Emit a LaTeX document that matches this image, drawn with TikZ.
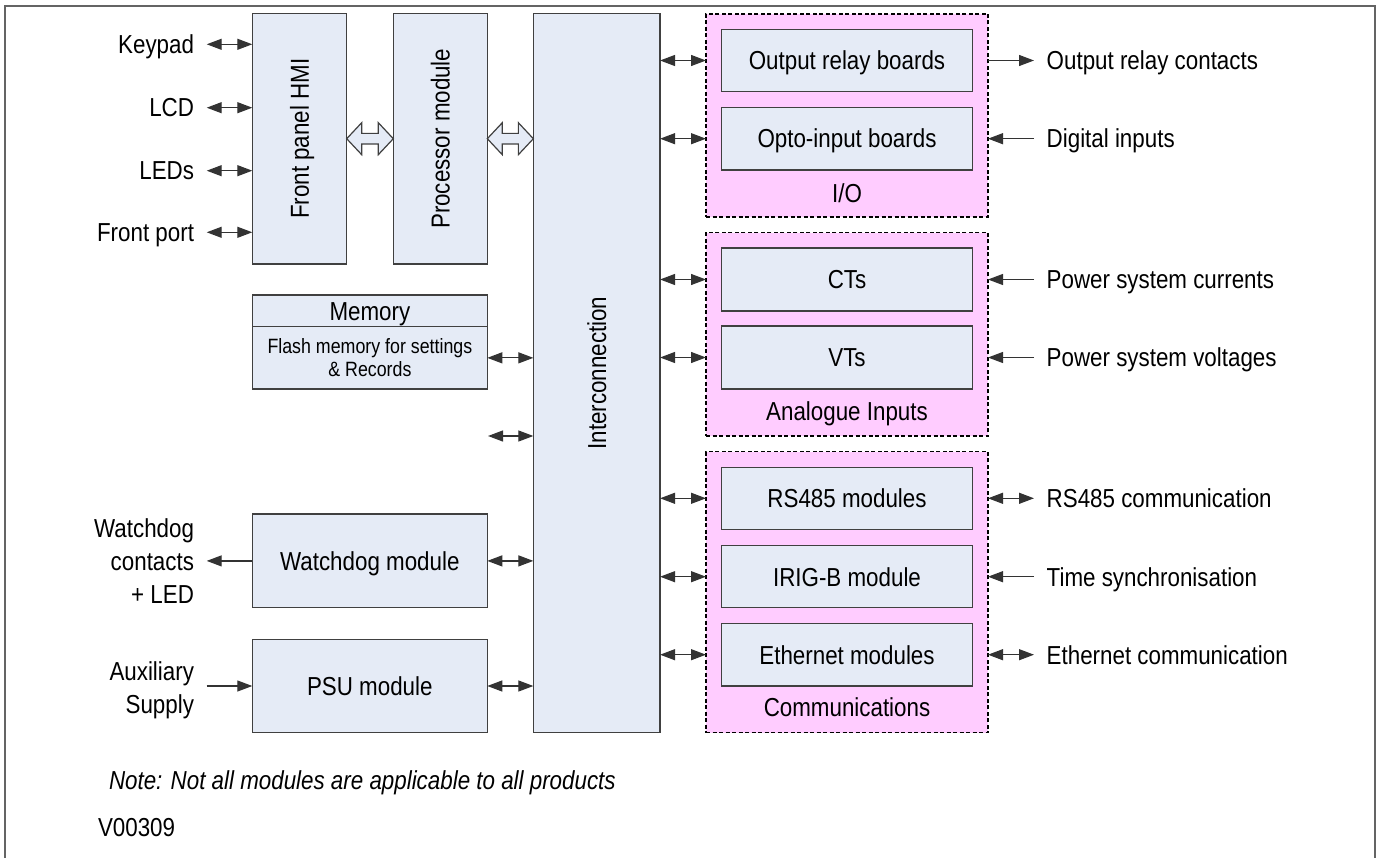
\documentclass[tikz,border=0pt]{standalone}
\usepackage{fontspec}
\setmainfont{Liberation Sans}[FakeStretch=0.86]
\usetikzlibrary{arrows.meta,calc}
\definecolor{boxfill}{RGB}{229,235,246}
\definecolor{grpfill}{RGB}{255,204,255}
\definecolor{boxline}{RGB}{64,64,64}
\definecolor{frameline}{RGB}{100,100,100}
\begin{document}
\begin{tikzpicture}[x=1pt,y=-1pt,
  every node/.style={inner sep=0pt,outer sep=0pt},
  txt/.style={font=\fontsize{26}{33}\selectfont,text height=18.6pt,text depth=0pt},
  mtxt/.style={font=\fontsize{26}{33}\selectfont},
  box/.style n args={2}{draw=boxline,line width=1.2pt,fill=boxfill,minimum width=#1,minimum height=#2},
  grp/.style n args={2}{draw=black,line width=1.2pt,dash pattern=on 4pt off 2.5pt,fill=grpfill,minimum width=#1,minimum height=#2},
  lbl/.style={txt,inner xsep=12.7pt},
  conn/.style={line width=1.2pt,draw=black!80},
  dbl/.style={conn,{Triangle[length=15pt,width=11pt]}-{Triangle[length=15pt,width=11pt]}},
  sgl/.style={conn,-{Triangle[length=15pt,width=11pt]}},
  hollow/.style={draw=boxline,line width=1.2pt,fill=boxfill,line join=miter},
  frame/.style={draw=frameline,line width=2pt}
]
\useasboundingbox (0,0) rectangle (1380,858);
\draw[frame] (5,858) -- (5,6) -- (1375,6) -- (1375,858);

% left column
\node[box={94.4pt}{250.7pt}] (hmi) at (299.5,138.7) {};
\node[txt,rotate=90] at (hmi.center) {Front panel HMI};
\node[box={94pt}{250.7pt}] (proc) at (440.3,138.7) {};
\node[txt,rotate=90] at (proc.center) {Processor module};
\node[box={126.7pt}{719.4pt}] (inter) at (596.7,373) {};
\node[txt,rotate=90] at (inter.center) {Interconnection};

\node[box={234.8pt}{31.7pt},txt] (memtop) at (369.9,310.85) {Memory};
\node[box={234.8pt}{62.3pt}] (memlow) at (369.9,357.85) {};
\node[font=\fontsize{20.7}{23}\selectfont,align=center] at (memlow.center) {Flash memory for settings\\\& Records};

\node[box={235pt}{93.7pt},txt] (wd) at (369.8,560.9) {Watchdog module};
\node[box={235pt}{93.4pt},txt] (psu) at (369.8,686) {PSU module};

% left labels
\node[lbl,anchor=east] (kp) at (206.7,44.3) {Keypad};
\node[lbl,anchor=east] (lcd) at (206.7,107.7) {LCD};
\node[lbl,anchor=east] (led) at (206.7,170.7) {LEDs};
\node[lbl,anchor=east] (fp) at (206.7,232.3) {Front port};
\node[mtxt,inner xsep=12.7pt,align=right,anchor=east] (wdl) at (206.7,561) {Watchdog\\contacts\\+ LED};
\node[mtxt,inner xsep=12.7pt,align=right,anchor=east] (aux) at (206.7,689.9) {Auxiliary\\Supply};

\draw[dbl] (kp.east) -- (hmi.west |- kp.east);
\draw[dbl] (lcd.east) -- (hmi.west |- lcd.east);
\draw[dbl] (led.east) -- (hmi.west |- led.east);
\draw[dbl] (fp.east) -- (hmi.west |- fp.east);
\draw[sgl] (wd.west) -- (wdl.east |- wd.west);
\draw[sgl] (aux.east |- psu.west) -- (psu.west);

% hollow double arrows
\draw[hollow] (hmi.east) -- ++(15,-16) -- ++(0,10.7) -- ($(proc.west)+(-15,-5.3)$) -- ++(0,-10.7) -- (proc.west)
  -- ++(-15,16) -- ++(0,-10.7) -- ($(hmi.east)+(15,5.3)$) -- ++(0,10.7) -- cycle;
\coordinate (iw) at (inter.west |- proc.east);
\draw[hollow] (proc.east) -- ++(15,-16) -- ++(0,10.7) -- ($(iw)+(-15,-5.3)$) -- ++(0,-10.7) -- (iw)
  -- ++(-15,16) -- ++(0,-10.7) -- ($(proc.east)+(15,5.3)$) -- ++(0,10.7) -- cycle;

% connectors into interconnection (left)
\draw[dbl] (memlow.east) -- (inter.west |- memlow.east);
\coordinate (free) at (488,436);
\draw[dbl] (free) -- (inter.west |- free);
\draw[dbl] (wd.east) -- (inter.west |- wd.east);
\draw[dbl] (psu.east) -- (inter.west |- psu.east);

% groups
\node[grp={282pt}{203pt}] (io) at (847,115.5) {};
\node[box={250.6pt}{62.4pt},txt] (orb) at (847,60.5) {Output relay boards};
\node[box={250.6pt}{62.7pt},txt] (oib) at (847,138.7) {Opto-input boards};
\node[txt] at (847,193) {I/O};

\node[grp={282pt}{203.3pt}] (ana) at (847,334.35) {};
\node[box={250.6pt}{63pt},txt] (ct) at (847,279.5) {CTs};
\node[box={250.6pt}{63pt},txt] (vt) at (847,357.5) {VTs};
\node[txt] at (847,411) {Analogue Inputs};

\node[grp={282pt}{281pt}] (com) at (847,592.2) {};
\node[box={250.6pt}{62pt},txt] (rs) at (847,498.3) {RS485 modules};
\node[box={250.6pt}{62pt},txt] (irig) at (847,576.7) {IRIG-B module};
\node[box={250.6pt}{62.7pt},txt] (eth) at (847,654.7) {Ethernet modules};
\node[txt] at (847,706.7) {Communications};

% connectors from interconnection (right)
\draw[dbl] (inter.east |- orb.west) -- (io.west |- orb.west);
\draw[dbl] (inter.east |- oib.west) -- (io.west |- oib.west);
\draw[dbl] (inter.east |- ct.west) -- (ana.west |- ct.west);
\draw[dbl] (inter.east |- vt.west) -- (ana.west |- vt.west);
\draw[dbl] (inter.east |- rs.west) -- (com.west |- rs.west);
\draw[dbl] (inter.east |- irig.west) -- (com.west |- irig.west);
\draw[dbl] (inter.east |- eth.west) -- (com.west |- eth.west);

% right labels
\node[lbl,anchor=west] (orc) at (1034,60.5) {Output relay contacts};
\node[lbl,anchor=west] (di) at (1034,138.7) {Digital inputs};
\node[lbl,anchor=west] (psc) at (1034,279.5) {Power system currents};
\node[lbl,anchor=west] (psv) at (1034,357.5) {Power system voltages};
\node[lbl,anchor=west] (rsc) at (1034,498.3) {RS485 communication};
\node[lbl,anchor=west] (ts) at (1034,576.7) {Time synchronisation};
\node[lbl,anchor=west] (ec) at (1034,654.7) {Ethernet communication};

\draw[sgl] (io.east |- orc.west) -- (orc.west);
\draw[sgl] (di.west) -- (io.east |- di.west);
\draw[sgl] (psc.west) -- (ana.east |- psc.west);
\draw[sgl] (psv.west) -- (ana.east |- psv.west);
\draw[dbl] (com.east |- rsc.west) -- (rsc.west);
\draw[sgl] (ts.west) -- (com.east |- ts.west);
\draw[dbl] (com.east |- ec.west) -- (ec.west);

% notes
\node[txt,font=\fontsize{26}{33}\selectfont\itshape,anchor=west] (note) at (109,780) {Note: Not all modules are applicable to all products};
\node[txt,anchor=west] (ver) at (98,826.7) {V00309};
\end{tikzpicture}
\end{document}
